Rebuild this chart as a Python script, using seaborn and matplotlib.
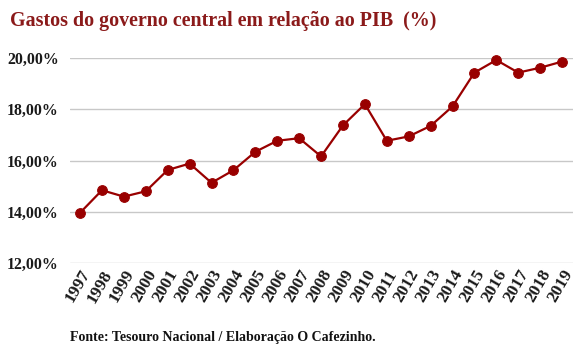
import matplotlib
matplotlib.use("Agg")
import matplotlib.pyplot as plt
import seaborn as sns
import pandas as pd
from matplotlib.ticker import FuncFormatter

years = [1997, 1998, 1999, 2000, 2001, 2002, 2003, 2004, 2005, 2006, 2007, 2008,
         2009, 2010, 2011, 2012, 2013, 2014, 2015, 2016, 2017, 2018, 2019]
values = [13.96, 14.84, 14.59, 14.80, 15.63, 15.88, 15.13, 15.62, 16.34, 16.77, 16.87, 16.16,
          17.37, 18.20, 16.77, 16.94, 17.35, 18.11, 19.43, 19.92, 19.43, 19.62, 19.86]
yticks = [12, 14, 16, 18, 20]
title = "Gastos do governo central em relação ao PIB  (%)"
source = "Fonte: Tesouro Nacional / Elaboração O Cafezinho."

sns.set_style("white")
plt.rcParams['font.family'] = ['Liberation Serif', 'DejaVu Serif']
plt.rcParams['font.weight'] = 'bold'

df = pd.DataFrame({"ano": years, "valor": values})

fig = plt.figure(figsize=(5.81, 3.52), dpi=100)
ax = fig.add_axes([70/581, 1-263/352, 503/581, 205/352])

sns.lineplot(data=df, x="ano", y="valor", ax=ax, color="#990000", linewidth=1.6,
             marker="o", markersize=7, markeredgecolor="#990000", clip_on=False, zorder=3)

ax.set_ylim(12, 20)
ax.set_xlim(years[0] - 0.46, years[-1] + 0.5)
ax.set_yticks(yticks)
ax.yaxis.set_major_formatter(FuncFormatter(lambda v, p: f"{v:.2f}".replace(".", ",") + "%"))
ax.set_xticks(years)
ax.set_xticklabels([str(y) for y in years], rotation=60, ha="right", rotation_mode="anchor",
                   fontsize=12.5, fontweight="bold")
for lab in ax.get_yticklabels():
    lab.set_fontsize(11.4)
    lab.set_fontweight("bold")
ax.tick_params(axis="both", length=0, colors="#1a1a1a")
ax.tick_params(axis="y", pad=8)
ax.tick_params(axis="x", pad=3)
ax.grid(axis="y", color="#C8C8C8", linewidth=1)
ax.set_axisbelow(True)
for s in ax.spines.values():
    s.set_visible(False)
ax.set_xlabel("")
ax.set_ylabel("")

fig.text(10/581, 1-21/352, title, fontsize=14.4, fontweight="bold", color="#8B1A1A",
         va="center", ha="left")
fig.text(70/581, 1-337/352, source, fontsize=10, fontweight="bold", color="#111111",
         va="center", ha="left")

fig.savefig("out.png", dpi=100)
